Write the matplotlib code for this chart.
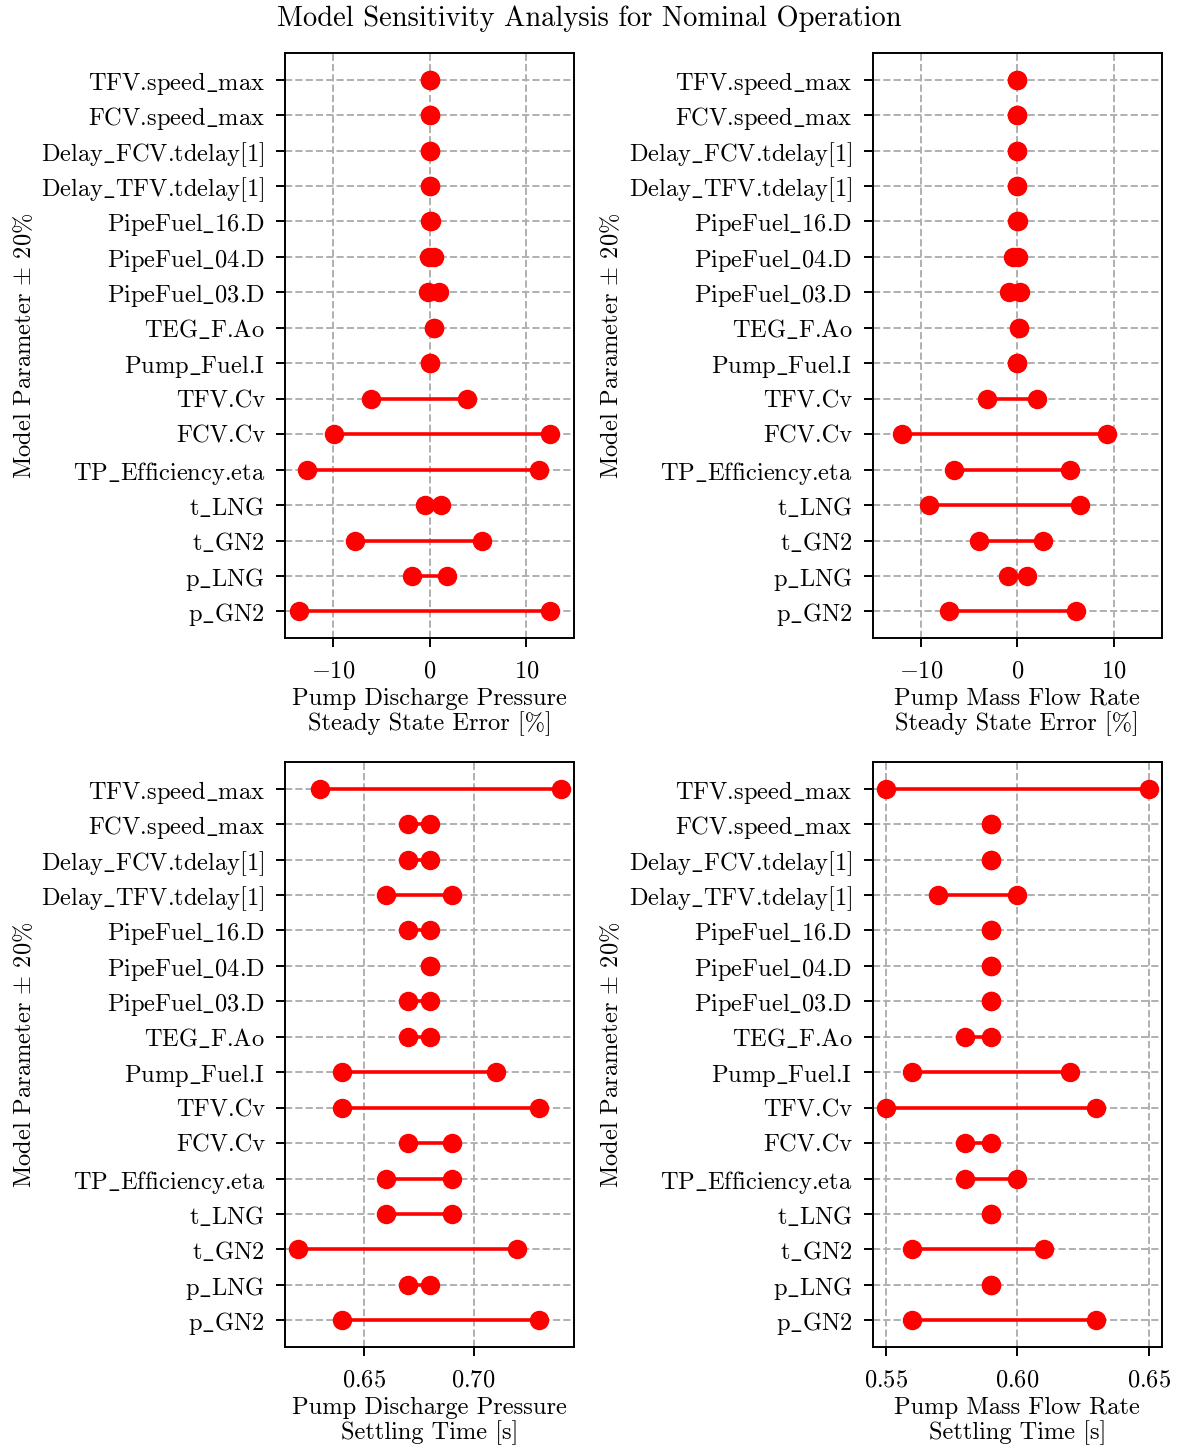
import matplotlib
matplotlib.use("Agg")
from matplotlib import pyplot as plt

plt.rcParams["font.family"] = ["cmr10", "DejaVu Serif"]
plt.rcParams["mathtext.fontset"] = "cm"
plt.rcParams["axes.formatter.use_mathtext"] = True
plt.rcParams["font.size"] = 17.6
plt.rcParams["axes.linewidth"] = 1.4
plt.rcParams["xtick.major.width"] = 1.4
plt.rcParams["ytick.major.width"] = 1.4
plt.rcParams["xtick.major.size"] = 6.5
plt.rcParams["ytick.major.size"] = 6.5
plt.rcParams["xtick.major.pad"] = 9.5
plt.rcParams["ytick.major.pad"] = 8

# parameters, bottom to top
params = ["p_GN2", "p_LNG", "t_GN2", "t_LNG", "TP_Efficiency.eta", "FCV.Cv", "TFV.Cv",
          "Pump_Fuel.I", "TEG_F.Ao", "PipeFuel_03.D", "PipeFuel_04.D", "PipeFuel_16.D",
          "Delay_TFV.tdelay[1]", "Delay_FCV.tdelay[1]", "FCV.speed_max", "TFV.speed_max"]

# pump discharge pressure steady state error [%] (-20% / +20%)
pres_err_lo = [-13.6, -1.8, -7.8, -0.5, -12.7, -9.9, -6.1, 0.0, 0.4, -0.2, -0.05, 0.0, 0.0, 0.0, 0.0, 0.0]
pres_err_hi = [12.5, 1.8, 5.4, 1.2, 11.3, 12.5, 3.9, 0.0, 0.4, 1.0, 0.45, 0.1, 0.0, 0.0, 0.0, 0.0]

# pump mass flow rate steady state error [%]
flow_err_lo = [-7.1, -1.0, -4.0, -9.2, -6.6, -11.9, -3.1, 0.0, 0.2, -0.9, -0.45, 0.0, 0.0, 0.0, 0.0, 0.0]
flow_err_hi = [6.1, 1.0, 2.7, 6.5, 5.5, 9.3, 2.0, 0.0, 0.2, 0.3, 0.1, 0.1, 0.0, 0.0, 0.0, 0.0]

# pump discharge pressure settling time [s]
pres_ts_lo = [0.64, 0.67, 0.62, 0.66, 0.66, 0.67, 0.64, 0.64, 0.67, 0.67, 0.68, 0.67, 0.66, 0.67, 0.67, 0.63]
pres_ts_hi = [0.73, 0.68, 0.72, 0.69, 0.69, 0.69, 0.73, 0.71, 0.68, 0.68, 0.68, 0.68, 0.69, 0.68, 0.68, 0.74]

# pump mass flow rate settling time [s]
flow_ts_lo = [0.56, 0.59, 0.56, 0.59, 0.58, 0.58, 0.55, 0.56, 0.58, 0.59, 0.59, 0.59, 0.57, 0.59, 0.59, 0.55]
flow_ts_hi = [0.63, 0.59, 0.61, 0.59, 0.60, 0.59, 0.63, 0.62, 0.59, 0.59, 0.59, 0.59, 0.60, 0.59, 0.59, 0.65]

panels = [
    (pres_err_lo, pres_err_hi, "Pump Discharge Pressure\nSteady State Error [%]", (-15, 15)),
    (flow_err_lo, flow_err_hi, "Pump Mass Flow Rate\nSteady State Error [%]", (-15, 15)),
    (pres_ts_lo, pres_ts_hi, "Pump Discharge Pressure\nSettling Time [s]", None),
    (flow_ts_lo, flow_ts_hi, "Pump Mass Flow Rate\nSettling Time [s]", None),
]

# cmr10 has no underscore glyph, draw it through mathtext
tick_labels = [p.replace("_", r"$\_$") for p in params]

fig, axes = plt.subplots(2, 2, figsize=(11.78, 14.49), dpi=100)
fig.subplots_adjust(left=0.242, right=0.9864, top=0.9634, bottom=0.0704, wspace=1.03, hspace=0.212)

for ax, (lo, hi, xlabel, xlim) in zip(axes.flat, panels):
    ax.set_axisbelow(True)
    ax.grid(True, linestyle="--", color="#b0b0b0", linewidth=1.4)
    for i in range(len(params)):
        ax.plot([lo[i], hi[i]], [i, i], "o-", color="red", markersize=13, linewidth=2.6)
    ax.set_yticks(range(len(params)))
    ax.set_yticklabels(tick_labels)
    ax.set_xlabel(xlabel, linespacing=1.05)
    ax.set_ylabel(r"Model Parameter $\pm$ 20%")
    if xlim is not None:
        ax.set_xlim(*xlim)

axes[1, 0].set_xticks([0.65, 0.70])
axes[1, 1].set_xticks([0.55, 0.60, 0.65])

fig.suptitle("Model Sensitivity Analysis for Nominal Operation", y=0.996, fontsize=20.5)
plt.savefig("out.png", dpi=100)
